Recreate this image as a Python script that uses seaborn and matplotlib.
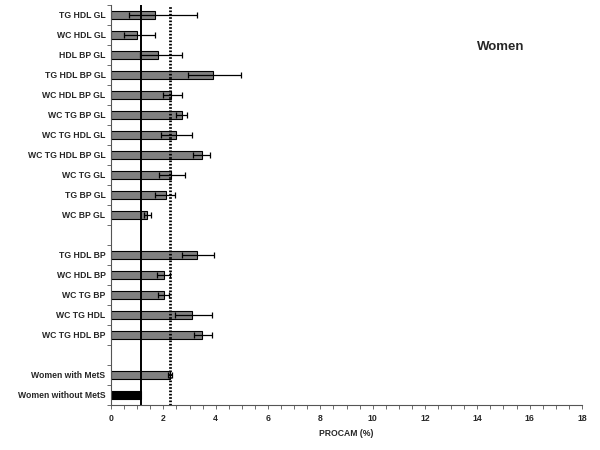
import matplotlib
matplotlib.use('Agg')
import matplotlib.pyplot as plt
import seaborn as sns
import pandas as pd
import numpy as np
from matplotlib.ticker import MultipleLocator

# row order from top to bottom, blank strings are the empty gaps
order = ['TG HDL GL', 'WC HDL GL', 'HDL BP GL', 'TG HDL BP GL', 'WC HDL BP GL',
         'WC TG BP GL', 'WC TG HDL GL', 'WC TG HDL BP GL', 'WC TG GL', 'TG BP GL',
         'WC BP GL', ' ', 'TG HDL BP', 'WC HDL BP', 'WC TG BP', 'WC TG HDL',
         'WC TG HDL BP', '  ', 'Women with MetS', 'Women without MetS']

groups = ['TG HDL GL', 'WC HDL GL', 'HDL BP GL', 'TG HDL BP GL', 'WC HDL BP GL',
          'WC TG BP GL', 'WC TG HDL GL', 'WC TG HDL BP GL', 'WC TG GL', 'TG BP GL',
          'WC BP GL', 'TG HDL BP', 'WC HDL BP', 'WC TG BP', 'WC TG HDL',
          'WC TG HDL BP', 'Women with MetS', 'Women without MetS']
procam = [1.68, 0.99, 1.80, 3.90, 2.28, 2.71, 2.48, 3.49, 2.28, 2.09,
          1.38, 3.30, 2.01, 2.01, 3.10, 3.49, 2.25, 1.13]
err_low = [0.70, 0.48, 1.11, 2.94, 1.97, 2.47, 1.90, 3.15, 1.85, 1.68,
           1.26, 2.71, 1.76, 1.80, 2.46, 3.16, 2.17, 1.13]
err_high = [3.29, 1.67, 2.70, 4.96, 2.71, 2.89, 3.10, 3.80, 2.84, 2.46,
            1.54, 3.95, 2.25, 2.23, 3.86, 3.87, 2.32, 1.13]

ref_without = 1.13
ref_with = 2.25

df = pd.DataFrame({'group': groups, 'procam': procam})
colors = {g: '#808080' for g in groups}
colors['Women without MetS'] = 'black'

sns.set_style('white')
plt.rcParams['font.family'] = ['Liberation Sans', 'DejaVu Sans']

fig, ax = plt.subplots(figsize=(6, 4.5), dpi=100)
fig.subplots_adjust(left=0.185, right=0.97, bottom=0.1, top=0.989)

sns.barplot(data=df, x='procam', y='group', hue='group', order=order,
            palette=colors, legend=False, width=0.42, edgecolor='black',
            linewidth=0.8, ax=ax)

pos = [order.index(g) for g in groups[:-1]]
vals = np.array(procam[:-1])
lo = vals - np.array(err_low[:-1])
hi = np.array(err_high[:-1]) - vals
ax.errorbar(vals, pos, xerr=[lo, hi], fmt='none', ecolor='black',
            elinewidth=0.9, capsize=2, capthick=0.9)

ax.axvline(ref_without, color='black', lw=1.4)
ax.axvline(ref_with, color='black', lw=2, ls=(0, (0.6, 0.6)))

ax.set_xlim(0, 18)
ax.set_ylim(len(order) - 0.5, -0.5)
ax.xaxis.set_major_locator(MultipleLocator(2))
ax.xaxis.set_minor_locator(MultipleLocator(0.5))
ax.yaxis.set_major_locator(matplotlib.ticker.FixedLocator(range(len(order))))
ax.set_yticks(np.arange(-0.5, len(order), 1), minor=True)
ax.set_yticklabels(order)
ax.tick_params(axis='y', which='major', length=0, labelsize=6.2, pad=4)
ax.tick_params(axis='y', which='minor', length=3, width=0.6, color='#555555', left=True)
ax.tick_params(axis='x', which='both', bottom=True, direction='out', length=3,
               width=0.6, color='#555555', labelsize=6.2)
for lab in ax.get_xticklabels() + ax.get_yticklabels():
    lab.set_fontweight('bold')

ax.set_xlabel('PROCAM (%)', fontsize=6.2, fontweight='bold')
ax.set_ylabel('')
sns.despine(ax=ax)
for s in ['left', 'bottom']:
    ax.spines[s].set_color('#555555')
    ax.spines[s].set_linewidth(0.8)

ax.text(14.9, 1.6, 'Women', fontsize=9.5, fontweight='bold', ha='center', va='center')

fig.savefig('out.png', dpi=100)
